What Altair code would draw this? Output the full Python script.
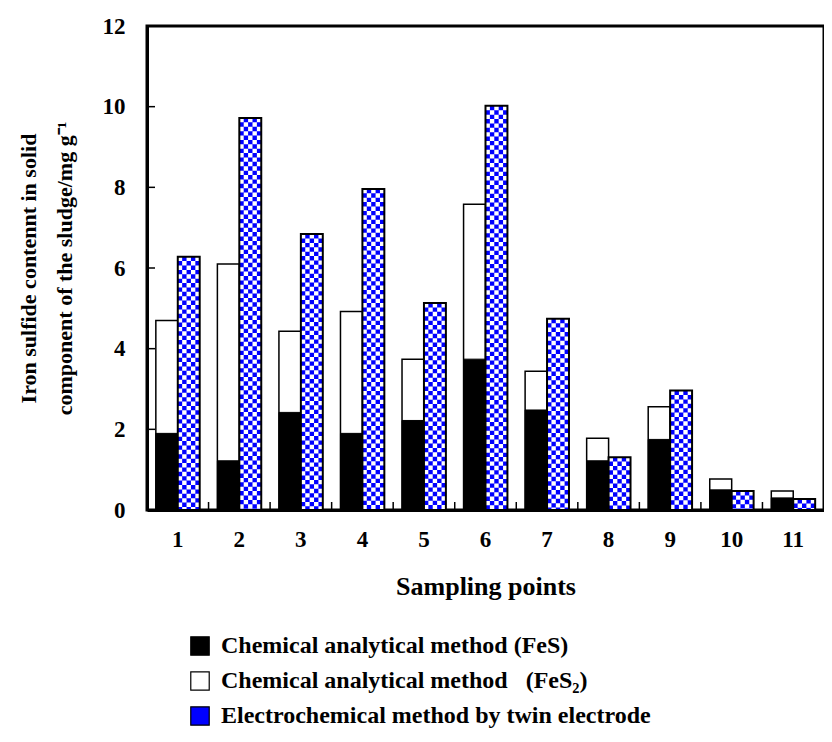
import altair as alt
import pandas as pd

points = ["1", "2", "3", "4", "5", "6", "7", "8", "9", "10", "11"]
fes = [1.9, 1.22, 2.42, 1.9, 2.22, 3.74, 2.48, 1.22, 1.75, 0.5, 0.3]
fes2 = [4.7, 6.1, 4.43, 4.92, 3.74, 7.58, 3.44, 1.78, 2.56, 0.77, 0.47]
electro = [6.28, 9.72, 6.84, 7.96, 5.13, 10.02, 4.74, 1.31, 2.96, 0.47, 0.27]
labels = ["Chemical analytical method (FeS)",
          "Chemical analytical method \u00a0\u00a0(FeS\u2082)",
          "Electrochemical method by twin electrode"]
colors = ["black", "white", "#0000ff"]
y_ticks = [2, 4, 6, 8, 10]

W, H = 677, 484
FONT = "Liberation Serif"

df = pd.DataFrame({"point": points, "fes": fes, "fes2": fes2, "electro": electro})
tick_df = pd.DataFrame({"v": y_ticks})

xo_scale = alt.Scale(domain=["chem", "electro"], paddingOuter=0.403, paddingInner=0)
color_scale = alt.Scale(domain=labels, range=colors)
legend = alt.Legend(orient="none", legendX=41, legendY=608, direction="vertical",
                    title=None, symbolType="square", symbolSize=340,
                    symbolStrokeColor="black", symbolStrokeWidth=1.2,
                    labelFont=FONT, labelFontSize=24, labelFontWeight="bold",
                    labelColor="black", labelLimit=0, labelOffset=9, rowPadding=11)

x_enc = alt.X("point:N", sort=points, scale=alt.Scale(paddingInner=0, paddingOuter=0),
              axis=alt.Axis(title="Sampling points", labelAngle=0, ticks=False,
                            labelPadding=18, titlePadding=22, domainWidth=3,
                            domainColor="black", labelFontSize=23, titleFontSize=26))
y_scale = alt.Scale(domain=[0, 12], nice=False)
y_axis = alt.Axis(values=[0, 2, 4, 6, 8, 10, 12], ticks=False, grid=False,
                  labelPadding=22, domainWidth=3, domainColor="black", labelFontSize=23,
                  title=["Iron sulfide contennt in solid", "component of the sludge/mg g\u207b\u00b9"],
                  titlePadding=26, titleLineHeight=36, titleFontSize=22)

base = alt.Chart(df)

white = base.mark_bar(stroke="black", strokeWidth=1.5).transform_calculate(
    series=f"'{labels[1]}'", pos="'chem'").encode(
    x=x_enc, xOffset=alt.XOffset("pos:N", scale=xo_scale),
    y=alt.Y("fes2:Q", scale=y_scale, axis=y_axis),
    fill=alt.Fill("series:N", scale=color_scale, legend=legend))

black = base.mark_bar(stroke="black", strokeWidth=1).transform_calculate(
    series=f"'{labels[0]}'", pos="'chem'").encode(
    x=x_enc, xOffset=alt.XOffset("pos:N", scale=xo_scale),
    y=alt.Y("fes:Q", scale=y_scale),
    fill=alt.Fill("series:N", scale=color_scale, legend=legend))

el_base = base.mark_bar(strokeWidth=0).transform_calculate(
    series=f"'{labels[2]}'", pos="'electro'").encode(
    x=x_enc, xOffset=alt.XOffset("pos:N", scale=xo_scale),
    y=alt.Y("electro:Q", scale=y_scale),
    fill=alt.Fill("series:N", scale=color_scale, legend=legend))

cell = 4.39
checks = []
for k in range(5):
    checks.append(base.mark_rule(color="white", strokeWidth=cell, strokeDash=[cell, cell],
                                 strokeDashOffset=(cell if k % 2 else 0),
                                 xOffset=cell / 2 + k * cell).encode(
        x=alt.X("point:N", sort=points),
        y=alt.Y("electro:Q", scale=y_scale),
        y2=alt.datum(0)))

el_outline = base.mark_bar(fillOpacity=0, stroke="black", strokeWidth=2).transform_calculate(
    pos="'electro'").encode(
    x=x_enc, xOffset=alt.XOffset("pos:N", scale=xo_scale),
    y=alt.Y("electro:Q", scale=y_scale))

ytick = alt.Chart(tick_df).mark_rule(color="black", strokeWidth=1.5).encode(
    x=alt.value(0), x2=alt.value(8), y=alt.Y("v:Q", scale=y_scale))

xtick = base.mark_rule(color="black", strokeWidth=1.5).encode(
    x=alt.X("point:N", sort=points, bandPosition=0),
    y=alt.value(H), y2=alt.value(H - 8))

chart = alt.layer(white, black, el_base, *checks, el_outline, ytick, xtick).properties(
    width=W, height=H,
    autosize=alt.AutoSizeParams(type="none"),
    padding={"left": 139, "top": 18, "right": 0, "bottom": 224},
).configure_view(stroke="black", strokeWidth=3).configure_axis(
    labelFont=FONT, labelFontWeight="bold", labelColor="black",
    titleFont=FONT, titleFontWeight="bold", titleColor="black",
)

chart.save("out.html", embed_options={"renderer": "svg", "actions": False})
